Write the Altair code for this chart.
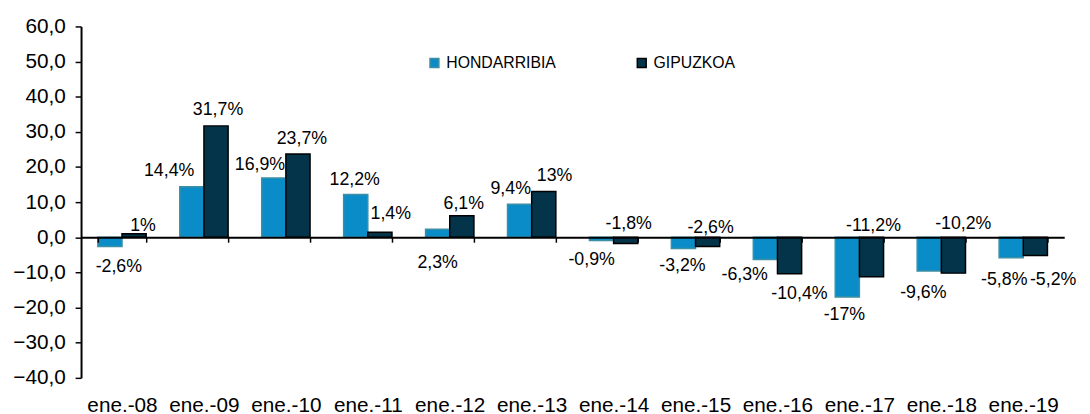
import altair as alt
import pandas as pd

categories = ["ene.-08", "ene.-09", "ene.-10", "ene.-11", "ene.-12", "ene.-13",
              "ene.-14", "ene.-15", "ene.-16", "ene.-17", "ene.-18", "ene.-19"]
series = ["HONDARRIBIA", "GIPUZKOA"]
hondarribia = [-2.6, 14.4, 16.9, 12.2, 2.3, 9.4, -0.9, -3.2, -6.3, -17.0, -9.6, -5.8]
gipuzkoa = [1.0, 31.7, 23.7, 1.4, 6.1, 13.0, -1.8, -2.6, -10.4, -11.2, -10.2, -5.2]
y_ticks = [-40, -30, -20, -10, 0, 10, 20, 30, 40, 50, 60]

# label nudges in pixels (layout only), relative to bar centre / bar end
h_label_dx = [9, -23, -14, -1, 0, -9, -10, -1, -21, -3, -6, -7]
h_label_dy = [21, -16, -13, -15, 34, -15, 20, 18, 16, 18, 22, 23]
g_label_dx = [9, 2, 4, 11, 2, 11, 3, 3, 10, 2, 10, 18]
g_label_dy = [-8, -16, -15, -19, -12, -16, -20, -19, 20, -51, -50, 25]

rows = []
for i, c in enumerate(categories):
    rows.append({"cat": c, "serie": series[0], "value": hondarribia[i],
                 "dx": h_label_dx[i], "dy": h_label_dy[i]})
    rows.append({"cat": c, "serie": series[1], "value": gipuzkoa[i],
                 "dx": g_label_dx[i], "dy": g_label_dy[i]})
df = pd.DataFrame(rows)
df["label"] = df["value"].map(lambda v: f"{v:g}".replace(".", ",") + "%")

W, H = 996, 356
FONT = "Liberation Sans"

x_enc = alt.X("cat:N", sort=categories, title=None,
              scale=alt.Scale(paddingInner=0.41, paddingOuter=0.205),
              axis=alt.Axis(orient="bottom", offset=-0.4 * H, domainColor="black",
                            domainWidth=2, tickColor="black", tickWidth=1.5, tickSize=5,
                            tickBand="extent", labelPadding=154, labelFontSize=21,
                            labelFont=FONT, labelColor="black", labelAngle=0, zindex=1,
                            labelOverlap=False))
y_enc = alt.Y("value:Q", title=None,
              scale=alt.Scale(domain=[-40, 60], nice=False, zero=False),
              axis=alt.Axis(values=y_ticks, grid=False, domainColor="black", domainWidth=2,
                            tickColor="black", tickWidth=1.5, tickSize=6, labelPadding=10,
                            labelFontSize=21, labelFont=FONT, labelColor="black",
                            labelOverlap=False,
                            labelExpr="replace(format(datum.value, '.1f'), '.', ',')"))
xoff = alt.XOffset("serie:N", sort=series, scale=alt.Scale(domain=series, paddingInner=0))

bars = alt.Chart(df).mark_bar(strokeWidth=1.5).encode(
    x=x_enc,
    y=y_enc,
    xOffset=xoff,
    color=alt.Color("serie:N", sort=series,
                    scale=alt.Scale(domain=series, range=["#0a8cc9", "#04344a"]),
                    legend=alt.Legend(title=None)),
    stroke=alt.Stroke("serie:N", sort=series,
                      scale=alt.Scale(domain=series, range=["#3d8fa3", "#000000"]),
                      legend=alt.Legend(title=None)),
)

layers = [bars]
for r in rows:
    sub = df[(df["cat"] == r["cat"]) & (df["serie"] == r["serie"])]
    layers.append(
        alt.Chart(sub).mark_text(fontSize=18, font=FONT, color="black", align="center",
                                 baseline="middle", dx=r["dx"], dy=r["dy"]).encode(
            x=x_enc,
            y=y_enc,
            xOffset=xoff,
            text="label:N",
        )
    )

chart = alt.layer(*layers).properties(
    width=W, height=H,
    padding={"left": 4, "top": 5, "right": 5, "bottom": 0},
).configure_view(stroke=None).configure_legend(
    orient="none", legendX=350, legendY=29, direction="horizontal",
    symbolType="square", symbolSize=81, symbolStrokeWidth=1.5,
    labelFontSize=16, labelFont=FONT, labelColor="black",
    columnPadding=78, labelOffset=4,
)

chart.save("out.html", embed_options={"renderer": "svg", "actions": False})
